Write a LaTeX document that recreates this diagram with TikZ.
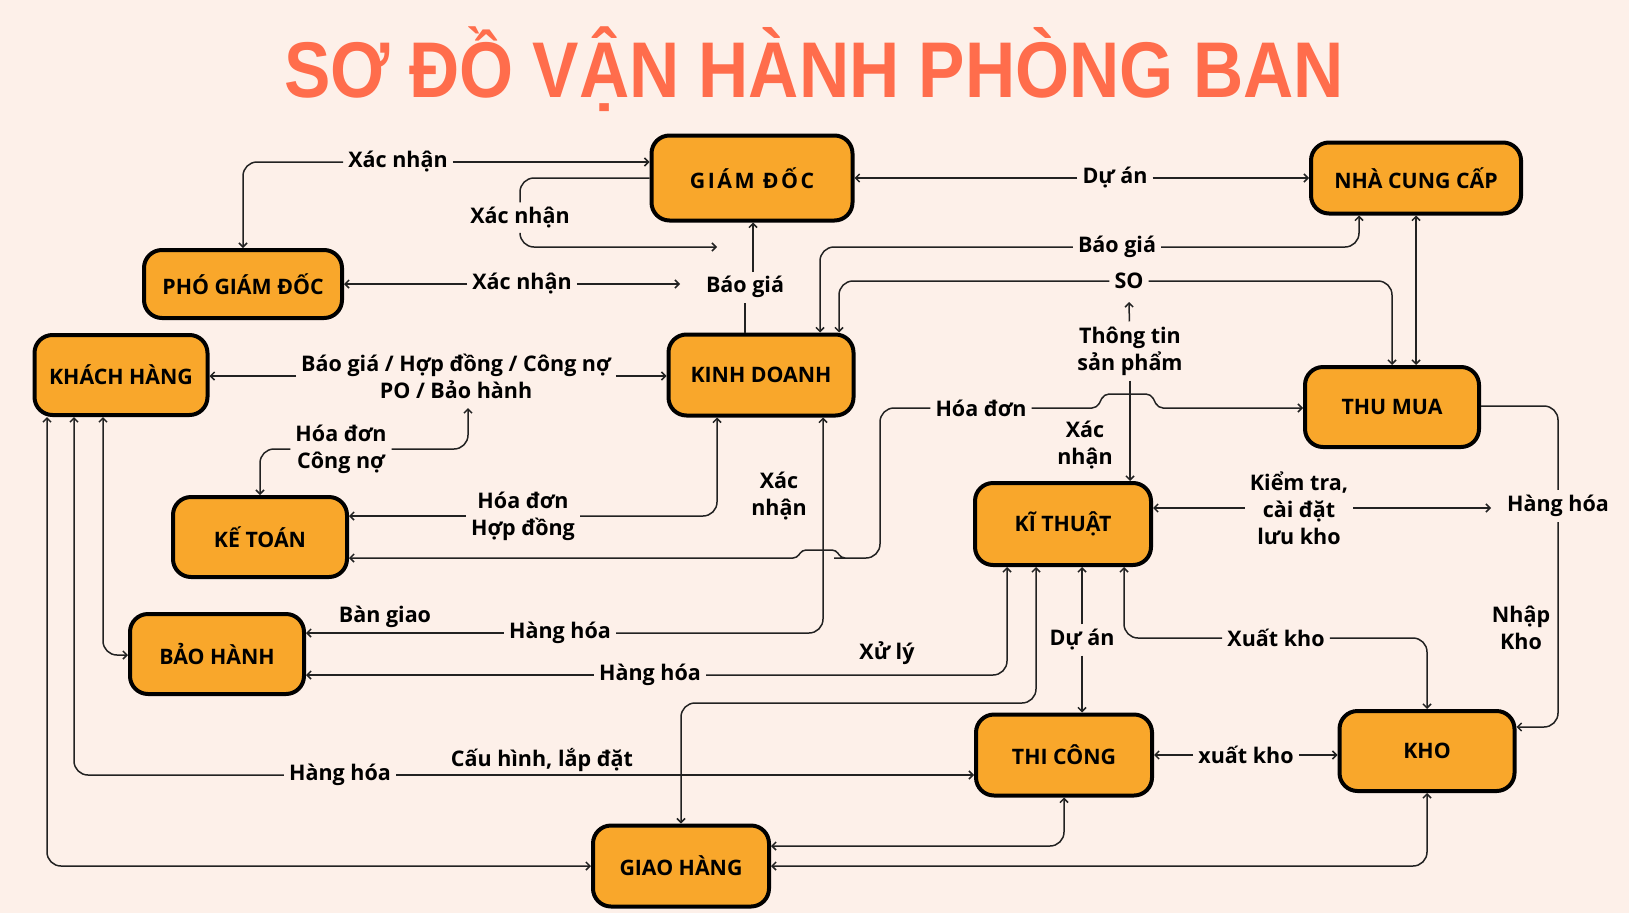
\documentclass[tikz,border=0pt]{standalone}
\usepackage{fontspec}
\usepackage{graphicx}
\setmainfont{Open Sans}
\newfontfamily\titlefont{Liberation Sans}
\usetikzlibrary{arrows.meta}
\definecolor{bg}{HTML}{FDF0E9}
\definecolor{boxfill}{HTML}{F9A72B}
\definecolor{titlec}{HTML}{FF6D4C}
\definecolor{linec}{HTML}{222222}
\begin{document}
\begin{tikzpicture}[x=1pt,y=-1pt,
  box/.style={draw=black, line width=4pt, rounded corners=18pt, fill=boxfill,
    font=\fontsize{21.3}{24}\selectfont\bfseries, text=black, inner sep=0pt},
  lbl/.style={font=\fontsize{21.5}{27}\selectfont\bfseries, align=center, inner sep=5pt, text=black},
  link/.style={draw=linec, line width=1.5pt, rounded corners=14pt},
  conn/.style={link, -{Straight Barb[length=4pt,width=8pt]}},
  both/.style={link, {Straight Barb[length=4pt,width=8pt]}-{Straight Barb[length=4pt,width=8pt]}}]
\fill[bg] (0,0) rectangle (1629,913);
\useasboundingbox (0,0) rectangle (1629,913);

% title
\node[font=\titlefont\fontsize{79}{82}\selectfont\bfseries, text=titlec, anchor=base, inner sep=0pt] (title) at (814,97) {\scalebox{0.88}[1]{SƠ ĐỒ VẬN HÀNH PHÒNG BAN}};

% boxes
\node[box, minimum width=201, minimum height=85] (gd) at (752,178) {\addfontfeature{LetterSpace=12}GIÁM ĐỐC};
\node[box, minimum width=198, minimum height=68] (pgd) at (243,284) {PHÓ GIÁM ĐỐC};
\node[box, minimum width=173, minimum height=80] (kh) at (121,375) {KHÁCH HÀNG};
\node[box, minimum width=185, minimum height=81] (kd) at (761,375) {KINH DOANH};
\node[box, minimum width=210, minimum height=71] (ncc) at (1416,178) {NHÀ CUNG CẤP};
\node[box, minimum width=174, minimum height=80] (tm) at (1392,407) {THU MUA};
\node[box, minimum width=174, minimum height=80] (kt) at (260,537) {KẾ TOÁN};
\node[box, minimum width=174, minimum height=80] (bh) at (217,654) {BẢO HÀNH};
\node[box, minimum width=176, minimum height=82] (kth) at (1063,524) {KĨ THUẬT};
\node[box, minimum width=176, minimum height=81] (tc) at (1064,755) {THI CÔNG};
\node[box, minimum width=175, minimum height=80] (kho) at (1427,751) {KHO};
\node[box, minimum width=176, minimum height=81] (gh) at (681,866) {GIAO HÀNG};

% labels
\node[lbl] (L1) at (398,162) {Xác nhận};
\node[lbl] (L2) at (520,218) {Xác nhận};
\node[lbl] (L3) at (522,284) {Xác nhận};
\node[lbl] (L4) at (745,287) {Báo giá};
\node[lbl] (L5) at (1115,178) {Dự án};
\node[lbl] (L6) at (1117,247) {Báo giá};
\node[lbl] (L7) at (1129,281) {SO};
\node[lbl] (L8) at (1130,351) {Thông tin\\sản phẩm};
\node[lbl] (L9) at (1085,445) {Xác\\nhận};
\node[lbl] (L10) at (981,408) {Hóa đơn};
\node[lbl] (L11) at (523,516) {Hóa đơn\\Hợp đồng};
\node[lbl] (L12) at (341,449) {Hóa đơn\\Công nợ};
\node[lbl] (L13) at (456,376) {Báo giá / Hợp đồng / Công nợ\\PO / Bảo hành};
\node[lbl] (L14) at (385,617) {Bàn giao};
\node[lbl] (L15) at (560,633) {Hàng hóa};
\node[lbl] (L16) at (779,496) {Xác\\nhận};
\node[lbl] (L17) at (887,653) {Xử lý};
\node[lbl] (L18) at (650,675) {Hàng hóa};
\node[lbl] (L19) at (1082,640) {Dự án};
\node[lbl] (L20) at (1276,638) {Xuất kho};
\node[lbl] (L21) at (1299,508) {Kiểm tra,\\cài đặt\\lưu kho};
\node[lbl] (L22) at (1558,506) {Hàng hóa};
\node[lbl] (L23) at (1521,628) {Nhập\\Kho};
\node[lbl] (L24) at (1246,755) {xuất kho};
\node[lbl] (L25) at (340,775) {Hàng hóa};
\node[lbl] (L26) at (542,760) {Cấu hình, lắp đặt};

% helper coordinates
\coordinate (y178) at (0,178);
\coordinate (y406) at (0,406);
\coordinate (y558) at (0,558);
\coordinate (y655) at (0,655);
\coordinate (y727) at (0,727);
\coordinate (y846) at (0,846);
\coordinate (c2e) at (717,247);
\coordinate (c3e) at (680,284);
\coordinate (c4) at (753,272);
\coordinate (c9) at (1129,302);
\coordinate (c12) at (468,408);
\coordinate (c19) at (1491,508);

% connectors
\draw[conn] (L1) -- (gd.west|-L1);
\draw[conn] (L1) -- (pgd.north|-L1) -- (pgd.north);
\draw[link] (gd.west|-y178) -- (L2.north|-y178) -- (L2);
\draw[conn] (L2) -- (L2.south|-c2e) -- (c2e);
\draw[conn] (L3) -- (pgd.east|-L3);
\draw[conn] (L3) -- (c3e);
\draw[link] (L4) -- (L4|-kd.north);
\draw[conn] (c4) -- (c4|-gd.south);
\draw[conn] (L5) -- (gd.east|-L5);
\draw[conn] (L5) -- (ncc.west|-L5);
\draw[conn] (L6) -- (1359,247) -- ([xshift=-57pt]ncc.south);
\draw[conn] (L6) -- (820,247) -- ([xshift=59pt]kd.north);
\draw[conn] (L7) -- (839,281) -- ([xshift=78pt]kd.north);
\draw[conn] (L7) -- (1392,281) -- (tm.north);
\draw[both] (ncc.south) -- (ncc.south|-tm.north);
\draw[conn] (L8) -- (c9);
\draw[conn] (L8) -- (L8|-kth.north);
% Hoa don (long, with hops)
\draw[conn] (L10) -- (880,408) -- (880,558) -- (848,558) [rounded corners=4pt] -- (841,558) -- (836,550) -- (802,550) -- (797,558) -- (785,558) [rounded corners=0pt] -- (kt.east|-y558);
\draw[conn, rounded corners=5pt] (L10) -- (1097,408) -- (1104,394) -- (1151,394) -- (1158,408) -- (tm.west|-L10);
\draw[conn] (L11) -- (717,516) -- ([xshift=-44pt]kd.south);
\draw[conn] (L11) -- (kt.east|-L11);
\draw[conn] (L12) -- (kt.north|-L12) -- (kt.north);
\draw[conn] (L12) -- (468,449) -- (c12);
\draw[conn] (L13) -- (kh.east|-L13);
\draw[conn] (L13) -- (kd.west|-L13);
\draw[conn] (L15) -- (823,633) -- ([xshift=62pt]kd.south);
\draw[conn] (L15) -- (bh.east|-L15);
\draw[conn] (L18) -- (1007,675) -- ([xshift=-56pt]kth.south);
\draw[conn] (L18) -- (bh.east|-L18);
\draw[both] ([xshift=-27pt]kth.south) -- (1036,703) -- (681,703) -- (gh.north);
\draw[conn] (L19) -- ([xshift=19pt]kth.south);
\draw[conn] (L19) -- ([xshift=18pt]tc.north);
\draw[conn] (L20) -- (1124,638) -- ([xshift=61pt]kth.south);
\draw[conn] (L20) -- (1427,638) -- (kho.north);
\draw[conn] (L21) -- (kth.east|-L21);
\draw[conn] (L21) -- (c19);
\draw[link] (tm.east|-y406) -- (1558,406) -- (L22);
\draw[conn] (L22) -- (1558,727) -- (kho.east|-y727);
\draw[conn] (L24) -- (tc.east|-L24);
\draw[conn] (L24) -- (kho.west|-L24);
\draw[conn] (L25) -- (74,775) -- ([xshift=-47pt]kh.south);
\draw[conn] (L25) -- (tc.west|-L25);
\draw[both] ([xshift=-18pt]kh.south) -- (103,655) -- (bh.west|-y655);
\draw[both] ([xshift=-74pt]kh.south) -- (47,866) -- (gh.west);
\draw[both] (gh.east|-y846) -- (1064,846) -- (tc.south);
\draw[both] (gh.east) -- (1427,866) -- (kho.south);
\end{tikzpicture}
\end{document}
